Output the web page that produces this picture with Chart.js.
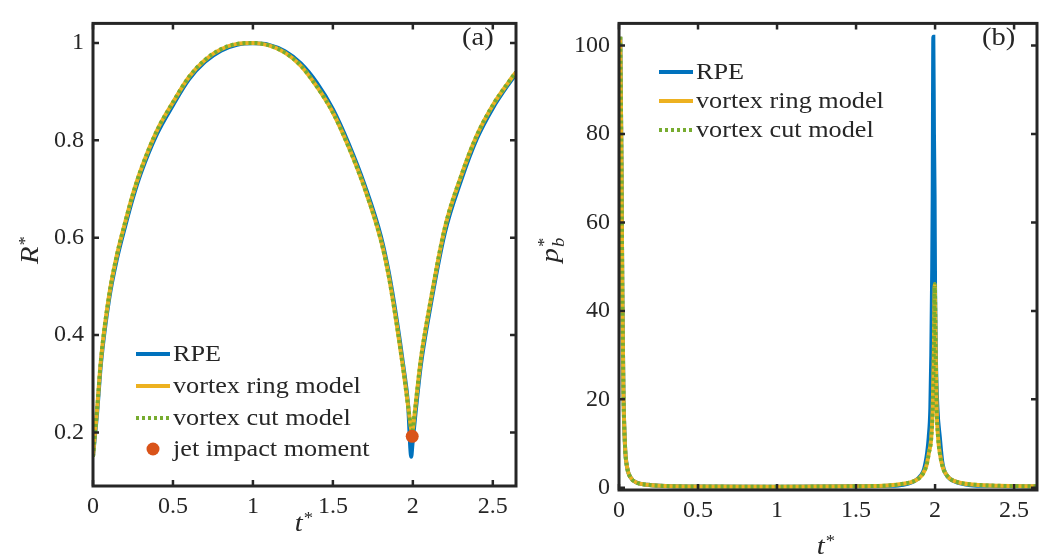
<!DOCTYPE html>
<html>
<head>
<meta charset="utf-8">
<script src="https://cdn.jsdelivr.net/npm/chart.js@4"></script>
<style>
  html, body { margin: 0; padding: 0; background: #fff; }
  #wrap { position: relative; width: 1047px; height: 559px; }
  .panel { position: absolute; top: 0; height: 559px; }
  #pa { left: 0; width: 530px; }
  #pb { left: 530px; width: 517px; }
</style>
</head>
<body>
<div id="wrap">
  <div class="panel" id="pa"><canvas id="chartA"></canvas></div>
  <div class="panel" id="pb"><canvas id="chartB"></canvas></div>
</div>
<script>
// ---- data, panel (a): bubble radius ----
const tA = [0, 0.01, 0.025, 0.05, 0.1, 0.15, 0.2, 0.25, 0.3, 0.4,
            0.5, 0.6, 0.7, 0.8, 0.9, 1.0, 1.1, 1.2, 1.3, 1.4,
            1.5, 1.6, 1.7, 1.8, 1.85, 1.9, 1.94, 1.97, 1.99, 1.996,
            2.0, 2.02, 2.05, 2.1, 2.2, 2.3, 2.4, 2.5, 2.6, 2.645];
const rRpe = [0.15, 0.185, 0.237, 0.342, 0.472, 0.557, 0.622, 0.682, 0.733, 0.813,
              0.872, 0.925, 0.961, 0.984, 0.996, 0.999, 0.996, 0.983, 0.958, 0.918,
              0.864, 0.792, 0.707, 0.603, 0.528, 0.43, 0.338, 0.258, 0.15, 0.17,
              0.185, 0.25, 0.338, 0.44, 0.61, 0.716, 0.803, 0.866, 0.916, 0.936];
const rRing = [0.15, 0.19, 0.245, 0.35, 0.48, 0.565, 0.63, 0.69, 0.74, 0.82,
               0.878, 0.93, 0.965, 0.987, 0.998, 1.0, 0.995, 0.98, 0.953, 0.91,
               0.857, 0.785, 0.70, 0.595, 0.52, 0.42, 0.33, 0.255, 0.205, 0.192,
               0.205, 0.265, 0.35, 0.45, 0.62, 0.725, 0.81, 0.872, 0.92, 0.94];
const rCut = [0.15, 0.19, 0.245, 0.35, 0.48, 0.565, 0.63, 0.69, 0.74, 0.82,
              0.878, 0.93, 0.965, 0.987, 0.998, 1.0, 0.995, 0.98, 0.953, 0.91,
              0.857, 0.785, 0.70, 0.595, 0.52, 0.42, 0.33, 0.255, 0.205, 0.192,
              0.205, 0.265, 0.35, 0.45, 0.62, 0.725, 0.81, 0.872, 0.92, 0.94];
const jetT = [1.996];
const jetR = [0.192];

// ---- data, panel (b): bubble pressure ----
const tRpeB = [0.008, 0.012, 0.016, 0.021, 0.028, 0.038, 0.052, 0.072, 0.11, 0.18,
               0.26, 0.5, 1.0, 1.5, 1.7, 1.8, 1.87, 1.91, 1.93, 1.95,
               1.96, 1.97, 1.976, 1.982, 1.985, 1.989, 1.993, 1.997, 2.0, 2.005,
               2.015, 2.03, 2.045, 2.056, 2.08, 2.12, 2.225, 2.35, 2.5, 2.65];
const pRpeB = [102, 88, 72, 45, 22, 9.5, 4.5, 2.4, 1.2, 0.7,
               0.45, 0.3, 0.25, 0.35, 0.45, 0.7, 1.5, 2.8, 4.2, 8,
               11.5, 18, 30, 50, 66, 102, 80, 66, 45, 30,
               18, 11.5, 6, 4.1, 2.5, 1.5, 0.6, 0.45, 0.35, 0.3];
const tModB = [0.008, 0.012, 0.016, 0.021, 0.028, 0.038, 0.052, 0.072, 0.11, 0.18,
               0.26, 0.5, 1.0, 1.5, 1.7, 1.8, 1.85, 1.888, 1.92, 1.945,
               1.961, 1.975, 1.985, 1.992, 1.998, 2.004, 2.01, 2.02, 2.03, 2.05,
               2.075, 2.1, 2.15, 2.25, 2.4, 2.65];
const pRingB = [102, 88, 72, 45, 22, 9.5, 4.5, 2.4, 1.2, 0.7,
                0.45, 0.3, 0.25, 0.35, 0.5, 0.9, 1.3, 1.9, 3, 5,
                7.9, 11, 18, 30, 46, 30, 18, 11, 7.9, 4.5,
                2.8, 1.9, 1.2, 0.7, 0.45, 0.35];
const pCutB = [102, 88, 72, 45, 22, 9.5, 4.5, 2.4, 1.2, 0.7,
               0.45, 0.3, 0.25, 0.35, 0.5, 0.9, 1.3, 1.9, 3, 5,
               7.9, 11, 18, 30, 46, 30, 18, 11, 7.9, 4.5,
               2.8, 1.9, 1.2, 0.7, 0.45, 0.35];

// ---- ticks and labels ----
const xTicks = [0, 0.5, 1, 1.5, 2, 2.5];
const yTicksA = [0.2, 0.4, 0.6, 0.8, 1];
const yTicksB = [0, 20, 40, 60, 80, 100];
const seriesNames = ['RPE', 'vortex ring model', 'vortex cut model', 'jet impact moment'];

const SERIF = '"Liberation Serif", "Times New Roman", serif';
const INK = '#262626';
const STRETCH = 1.14; // reference text is a bit wider than plain Times
Chart.defaults.font.family = SERIF;
Chart.defaults.color = INK;

const pts = (xs, ys) => xs.map((x, i) => ({ x: x, y: ys[i] }));

function lineSet(label, xs, ys, color, order, dash) {
    return {
        label: label,
        data: pts(xs, ys),
        borderColor: color,
        backgroundColor: color,
        borderWidth: 4,
        borderDash: dash || [],
        pointRadius: 0,
        cubicInterpolationMode: 'monotone',
        order: order
    };
}

// stretched text, left aligned at x
function wideText(ctx, txt, x, y) {
    ctx.save();
    ctx.translate(x, y);
    ctx.scale(STRETCH, 1);
    ctx.fillText(txt, 0, 0);
    ctx.restore();
}

// axis title with italic main letter plus sup/sub
function axisTitle(ctx, x, y, rot, main, sup, sub) {
    ctx.save();
    ctx.translate(x, y);
    ctx.rotate(rot);
    ctx.scale(1.1, 1);
    ctx.fillStyle = INK;
    ctx.textBaseline = 'alphabetic';
    ctx.font = 'italic 26px ' + SERIF;
    const w = ctx.measureText(main).width;
    ctx.font = '17px ' + SERIF;
    const ws = ctx.measureText(sup).width;
    ctx.font = 'italic 17px ' + SERIF;
    const wb = sub ? ctx.measureText(sub).width : 0;
    const total = w + Math.max(ws, wb) + 1;
    const x0 = -total / 2;
    ctx.font = 'italic 26px ' + SERIF;
    ctx.fillText(main, x0, 8);
    ctx.font = '17px ' + SERIF;
    ctx.fillText(sup, x0 + w + 1, sub ? -1 : 0);
    if (sub) {
        ctx.font = 'italic 17px ' + SERIF;
        ctx.fillText(sub, x0 + w + 1, 14);
    }
    ctx.restore();
}

const framePlugin = {
    id: 'frame',
    afterDatasetsDraw(chart, args, o) {
        const ctx = chart.ctx;
        const a = chart.chartArea;
        const xs = chart.scales.x, ys = chart.scales.y;
        ctx.save();
        ctx.strokeStyle = INK;
        ctx.lineWidth = 2.5;
        ctx.beginPath();
        xs.ticks.forEach(t => {
            const px = xs.getPixelForValue(t.value);
            ctx.moveTo(px, a.bottom); ctx.lineTo(px, a.bottom - 6);
            ctx.moveTo(px, a.top); ctx.lineTo(px, a.top + 6);
        });
        ys.ticks.forEach(t => {
            const py = ys.getPixelForValue(t.value);
            ctx.moveTo(a.left, py); ctx.lineTo(a.left + 6, py);
            ctx.moveTo(a.right, py); ctx.lineTo(a.right - 6, py);
        });
        ctx.stroke();
        ctx.lineWidth = 3;
        ctx.strokeRect(a.left, a.top, a.right - a.left, a.bottom - a.top);

        // panel tag
        ctx.fillStyle = INK;
        ctx.font = '25px ' + SERIF;
        ctx.textBaseline = 'middle';
        ctx.textAlign = 'left';
        wideText(ctx, o.tag, o.tagX, o.tagY);

        // legend
        ctx.font = '23px ' + SERIF;
        chart.data.datasets.forEach((ds, i) => {
            const y = o.legendY[i];
            if (ds.type === 'scatter') {
                ctx.fillStyle = ds.backgroundColor;
                ctx.beginPath();
                ctx.arc((o.legendX0 + o.legendX1) / 2, y, 6.5, 0, Math.PI * 2);
                ctx.fill();
            } else {
                ctx.strokeStyle = ds.borderColor;
                ctx.lineWidth = ds.borderWidth;
                ctx.setLineDash(ds.borderDash);
                ctx.beginPath();
                ctx.moveTo(o.legendX0, y);
                ctx.lineTo(o.legendX1, y);
                ctx.stroke();
                ctx.setLineDash([]);
            }
            ctx.fillStyle = INK;
            wideText(ctx, ds.label, o.legendX1 + 3, y + 1);
        });
        ctx.restore();

        axisTitle(ctx, o.xtX, o.xtY, 0, 't', '*');
        axisTitle(ctx, o.ytX, o.ytY, -Math.PI / 2, o.yMain, '*', o.ySub);
    }
};

function axes(yMin, yMax, yTicks, yW, xH) {
    const tickFont = { size: 24, family: SERIF };
    return {
        x: {
            type: 'linear', min: 0, max: 2.645,
            afterBuildTicks: s => { s.ticks = xTicks.map(v => ({ value: v })); },
            afterFit: s => { s.height = xH; },
            ticks: { font: tickFont, color: INK, padding: 6, autoSkip: false, maxRotation: 0,
                     callback: v => String(v) },
            grid: { display: false, drawTicks: false },
            border: { display: false }
        },
        y: {
            type: 'linear', min: yMin, max: yMax,
            afterBuildTicks: s => { s.ticks = yTicks.map(v => ({ value: v })); },
            afterFit: s => { s.width = yW; },
            ticks: { font: tickFont, color: INK, padding: 9, autoSkip: false,
                     callback: v => String(v) },
            grid: { display: false, drawTicks: false },
            border: { display: false }
        }
    };
}

new Chart(document.getElementById('chartA'), {
    type: 'line',
    data: {
        datasets: [
            lineSet(seriesNames[0], tA, rRpe, '#0072BD', 3),
            lineSet(seriesNames[1], tA, rRing, '#EDB120', 2),
            lineSet(seriesNames[2], tA, rCut, '#77AC30', 1, [3, 3]),
            {
                type: 'scatter',
                label: seriesNames[3],
                data: pts(jetT, jetR),
                backgroundColor: '#D95319',
                borderWidth: 0,
                pointRadius: 6.5,
                order: 0
            }
        ]
    },
    options: {
        responsive: true,
        maintainAspectRatio: false,
        animation: false,
        layout: { padding: { top: 13, right: 14, left: 0, bottom: 0 } },
        plugins: {
            legend: { display: false },
            tooltip: { enabled: false },
            frame: {
                tag: '(a)', tagX: 462, tagY: 38,
                legendX0: 136, legendX1: 170, legendY: [354, 386, 418, 449],
                xtX: 304, xtY: 523, ytX: 30, ytY: 250, yMain: 'R'
            }
        },
        scales: axes(0.09, 1.04, yTicksA, 93, 73)
    },
    plugins: [framePlugin]
});

new Chart(document.getElementById('chartB'), {
    type: 'line',
    data: {
        datasets: [
            lineSet(seriesNames[0], tRpeB, pRpeB, '#0072BD', 3),
            lineSet(seriesNames[1], tModB, pRingB, '#EDB120', 2),
            lineSet(seriesNames[2], tModB, pCutB, '#77AC30', 1, [3, 3])
        ]
    },
    options: {
        responsive: true,
        maintainAspectRatio: false,
        animation: false,
        layout: { padding: { top: 13, right: 10, left: 0, bottom: 0 } },
        plugins: {
            legend: { display: false },
            tooltip: { enabled: false },
            frame: {
                tag: '(b)', tagX: 452, tagY: 38,
                legendX0: 129, legendX1: 163, legendY: [72, 101, 130],
                xtX: 296, xtY: 546, ytX: 20, ytY: 250, yMain: 'p', ySub: 'b'
            }
        },
        scales: axes(-0.5, 105, yTicksB, 89, 69)
    },
    plugins: [framePlugin]
});
</script>
</body>
</html>
